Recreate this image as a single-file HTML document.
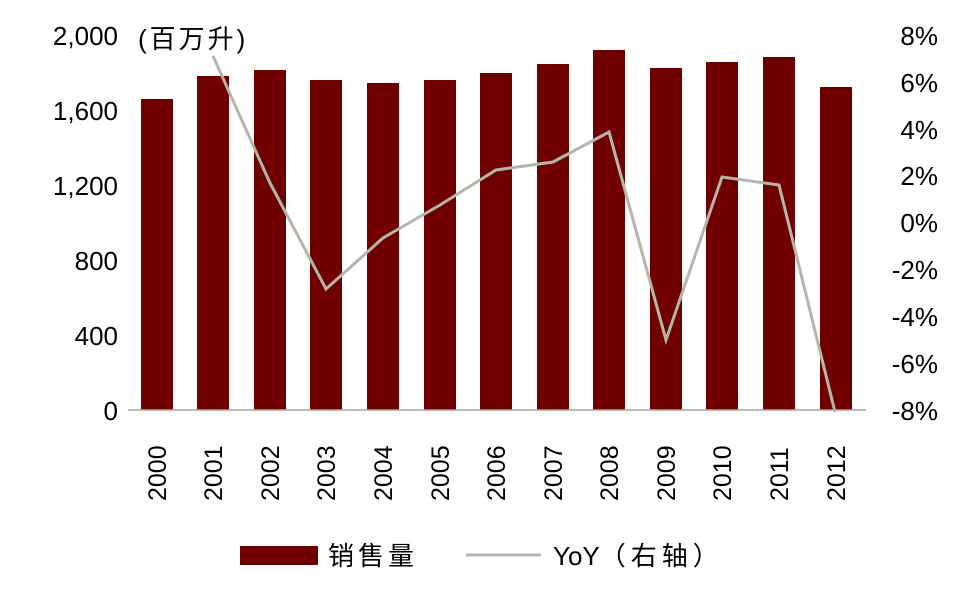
<!DOCTYPE html>
<html><head><meta charset="utf-8"><style>
body{margin:0;background:#fff;}
svg text{font-family:"Liberation Sans","Noto Sans CJK SC",sans-serif;fill:#000;}
</style></head><body>
<svg width="960" height="593" viewBox="0 0 960 593" xmlns="http://www.w3.org/2000/svg">
<g font-size="26" text-anchor="end">
<text x="118" y="45">2,000</text>
<text x="118" y="120">1,600</text>
<text x="118" y="195">1,200</text>
<text x="118" y="270">800</text>
<text x="118" y="345">400</text>
<text x="118" y="420">0</text>
</g>
<g font-size="26" text-anchor="end">
<text x="938" y="45">8%</text>
<text x="938" y="92">6%</text>
<text x="938" y="139">4%</text>
<text x="938" y="185">2%</text>
<text x="938" y="232">0%</text>
<text x="938" y="279">-2%</text>
<text x="938" y="326">-4%</text>
<text x="938" y="373">-6%</text>
<text x="938" y="420">-8%</text>
</g>
<text x="138" y="48" font-size="26" letter-spacing="3">(百万升)</text>
<g fill="#700000">
<rect x="141" y="99" width="32" height="311"/>
<rect x="197" y="76" width="32" height="334"/>
<rect x="254" y="70" width="32" height="340"/>
<rect x="310" y="80" width="32" height="330"/>
<rect x="367" y="83" width="32" height="327"/>
<rect x="424" y="80" width="32" height="330"/>
<rect x="480" y="73" width="32" height="337"/>
<rect x="537" y="64" width="32" height="346"/>
<rect x="593" y="50" width="32" height="360"/>
<rect x="650" y="68" width="32" height="342"/>
<rect x="706" y="62" width="32" height="348"/>
<rect x="763" y="57" width="32" height="353"/>
<rect x="820" y="87" width="32" height="323"/>
</g>
<line x1="128" y1="410" x2="866" y2="410" stroke="#a6a6a6" stroke-width="1.5"/>
<polyline fill="none" stroke="#b3b6a8" stroke-width="3" points="213,56 270,183 326,289 383,238 440,205 496,170 553,162 609,132 666,340 722,177 779,185 835,412"/>
<g font-size="25">
<text transform="translate(166,501) rotate(-90)">2000</text>
<text transform="translate(222,501) rotate(-90)">2001</text>
<text transform="translate(279,501) rotate(-90)">2002</text>
<text transform="translate(335,501) rotate(-90)">2003</text>
<text transform="translate(392,501) rotate(-90)">2004</text>
<text transform="translate(449,501) rotate(-90)">2005</text>
<text transform="translate(505,501) rotate(-90)">2006</text>
<text transform="translate(562,501) rotate(-90)">2007</text>
<text transform="translate(618,501) rotate(-90)">2008</text>
<text transform="translate(675,501) rotate(-90)">2009</text>
<text transform="translate(731,501) rotate(-90)">2010</text>
<text transform="translate(788,501) rotate(-90)">2011</text>
<text transform="translate(845,501) rotate(-90)">2012</text>
</g>
<rect x="240" y="546" width="78" height="19" fill="#700000"/>
<text x="328" y="565" font-size="26" letter-spacing="4">销售量</text>
<line x1="466" y1="555" x2="541" y2="555" stroke="#b3b6a8" stroke-width="3"/>
<text x="553" y="565" font-size="26">YoY<tspan letter-spacing="5">（右轴）</tspan></text>
</svg>
</body></html>
